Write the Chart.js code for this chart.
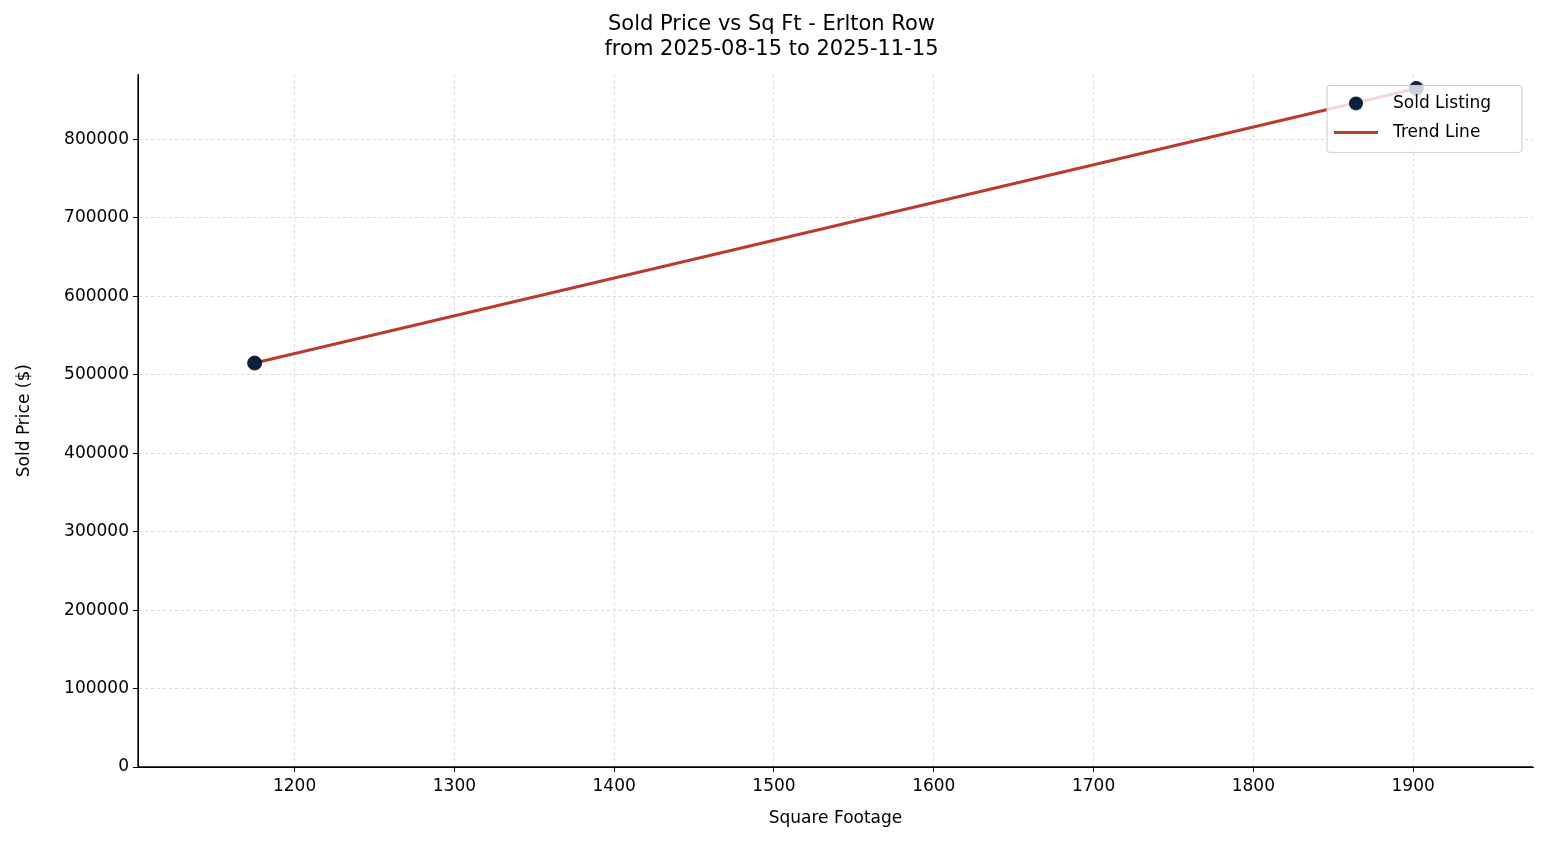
<!DOCTYPE html>
<html>
<head>
<meta charset="utf-8">
<script src="https://cdn.jsdelivr.net/npm/chart.js@4"></script>
<style>
  html, body { margin: 0; padding: 0; background: #fff; }
  #wrap { width: 1547px; height: 845px; }
</style>
</head>
<body>
<div id="wrap"><canvas id="chart" width="1547" height="845"></canvas></div>
<script>
// data
const sqft = [1175, 1902];
const soldPrice = [515000, 865000];
const trendX = [1175, 1902];
const trendY = [515000, 865000];
const xTicks = [1200, 1300, 1400, 1500, 1600, 1700, 1800, 1900];
const yTicks = [0, 100000, 200000, 300000, 400000, 500000, 600000, 700000, 800000];

const FONT = "'DejaVu Sans', 'Liberation Sans', sans-serif";
Chart.defaults.font.family = FONT;

// legend box drawn inside the plot, upper right
const innerLegend = {
    id: 'innerLegend',
    afterDraw(chart) {
        const ctx = chart.ctx;
        const a = chart.chartArea;
        const w = 195, h = 67;
        const x = a.right - w - 11, y = a.top + 11;
        ctx.save();
        ctx.fillStyle = 'rgba(255,255,255,0.8)';
        ctx.strokeStyle = '#cccccc';
        ctx.lineWidth = 1;
        ctx.beginPath();
        ctx.roundRect(x, y, w, h, 3);
        ctx.fill();
        ctx.stroke();
        ctx.font = '17px ' + FONT;
        ctx.textBaseline = 'middle';
        ctx.fillStyle = '#0d1f3c';
        ctx.beginPath();
        ctx.arc(x + 29, y + 18, 7, 0, Math.PI * 2);
        ctx.fill();
        ctx.fillStyle = '#000';
        ctx.fillText('Sold Listing', x + 66, y + 18);
        ctx.strokeStyle = '#b83c2e';
        ctx.lineWidth = 3;
        ctx.beginPath();
        ctx.moveTo(x + 7, y + 47);
        ctx.lineTo(x + 51, y + 47);
        ctx.stroke();
        ctx.fillText('Trend Line', x + 66, y + 47);
        ctx.restore();
    }
};

new Chart(document.getElementById('chart'), {
    type: 'scatter',
    data: {
        datasets: [
            {
                label: 'Trend Line',
                type: 'line',
                data: trendX.map((x, i) => ({ x: x, y: trendY[i] })),
                borderColor: '#b83c2e',
                borderWidth: 3,
                pointRadius: 0,
                order: 2
            },
            {
                label: 'Sold Listing',
                data: sqft.map((x, i) => ({ x: x, y: soldPrice[i] })),
                backgroundColor: '#0d1f3c',
                borderColor: '#0d1f3c',
                pointRadius: 7,
                order: 1
            }
        ]
    },
    options: {
        responsive: false,
        animation: false,
        layout: { padding: { left: 10, right: 14, top: 0, bottom: 12 } },
        plugins: {
            legend: { display: false },
            tooltip: { enabled: false },
            title: {
                display: true,
                text: ['Sold Price vs Sq Ft - Erlton Row', 'from 2025-08-15 to 2025-11-15'],
                color: '#000',
                font: { size: 21, weight: 'normal', lineHeight: 1.2 },
                padding: { top: 12, bottom: 12 }
            }
        },
        scales: {
            x: {
                type: 'linear',
                min: 1102,
                max: 1975,
                afterBuildTicks: s => { s.ticks = xTicks.map(v => ({ value: v })); },
                afterFit: s => { s.height = 66; },
                ticks: { color: '#000', font: { size: 17 }, padding: 4, callback: v => String(v) },
                grid: { color: '#d9d9d9', tickColor: '#000', tickLength: 5 },
                border: { color: '#000', dash: [3, 3], display: true },
                title: { display: true, text: 'Square Footage', color: '#000', font: { size: 17 }, padding: { top: 4 } }
            },
            y: {
                min: 0,
                max: 883000,
                afterBuildTicks: s => { s.ticks = yTicks.map(v => ({ value: v })); },
                afterFit: s => { s.width = 128; },
                ticks: { color: '#000', font: { size: 17 }, padding: 4, callback: v => String(v) },
                grid: { color: '#d9d9d9', tickColor: '#000', tickLength: 5 },
                border: { color: '#000', dash: [3, 3], display: true },
                title: { display: true, text: 'Sold Price ($)', color: '#000', font: { size: 17 }, padding: { bottom: 2 } }
            }
        }
    },
    plugins: [innerLegend, {
        id: 'solidAxes',
        afterDraw(chart) {
            const ctx = chart.ctx, a = chart.chartArea;
            ctx.save();
            ctx.strokeStyle = '#000';
            ctx.lineWidth = 1.3;
            ctx.beginPath();
            ctx.moveTo(a.left, a.top);
            ctx.lineTo(a.left, a.bottom);
            ctx.lineTo(a.right, a.bottom);
            ctx.stroke();
            ctx.restore();
        }
    }]
});
</script>
</body>
</html>
